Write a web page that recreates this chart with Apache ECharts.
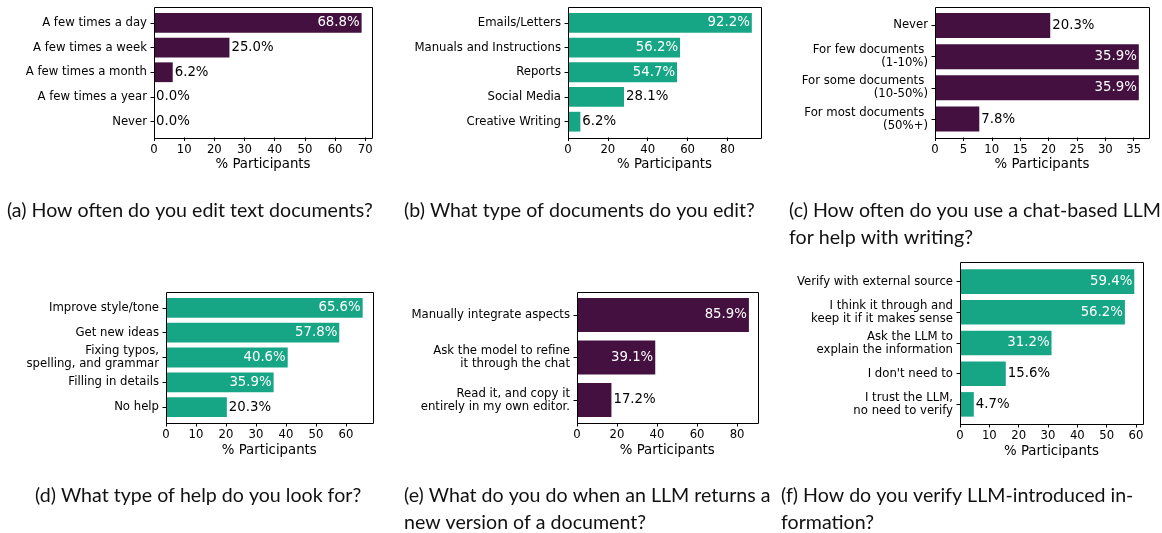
<!DOCTYPE html>
<html>
<head>
<meta charset="utf-8">
<script src="https://cdn.jsdelivr.net/npm/echarts@6/dist/echarts.min.js"></script>
<style>
  html, body { margin: 0; padding: 0; background: #fff; }
  #main { width: 1162px; height: 533px; }
</style>
</head>
<body>
<div id="main"></div>
<script>
// (a) How often do you edit text documents?
var catsA = ['A few times a day', 'A few times a week', 'A few times a month', 'A few times a year', 'Never'];
var valsA = [68.8, 25.0, 6.2, 0.0, 0.0];
// (b) What type of documents do you edit?
var catsB = ['Emails/Letters', 'Manuals and Instructions', 'Reports', 'Social Media', 'Creative Writing'];
var valsB = [92.2, 56.2, 54.7, 28.1, 6.2];
// (c) chat-based LLM usage
var catsC = ['Never', 'For few documents \n(1-10%)', 'For some documents \n(10-50%)', 'For most documents \n(50%+)'];
var valsC = [20.3, 35.9, 35.9, 7.8];
// (d) type of help
var catsD = ['Improve style/tone', 'Get new ideas', 'Fixing typos,\nspelling, and grammar', 'Filling in details', 'No help'];
var valsD = [65.6, 57.8, 40.6, 35.9, 20.3];
// (e) LLM returns new version
var catsE = ['Manually integrate aspects', 'Ask the model to refine\nit through the chat', 'Read it, and copy it\nentirely in my own editor.'];
var valsE = [85.9, 39.1, 17.2];
// (f) verify LLM information
var catsF = ['Verify with external source', 'I think it through and\nkeep it if it makes sense', 'Ask the LLM to\nexplain the information', 'I don\'t need to', 'I trust the LLM,\nno need to verify'];
var valsF = [59.4, 56.2, 31.2, 15.6, 4.7];

// x tick steps
var ticksA = 10, ticksB = 20, ticksC = 5, ticksD = 10, ticksE = 20, ticksF = 10;

var captions = [
  '(a) How often do you edit text documents?',
  '(b) What type of documents do you edit?',
  '(c) How often do you use a chat-based LLM\nfor help with writing?',
  '(d) What type of help do you look for?',
  '(e) What do you do when an LLM returns a\nnew version of a document?',
  '(f) How do you verify LLM-introduced in-\nformation?'
];

var PURPLE = '#431040';
var GREEN = '#17a685';
var INSIDE_MIN = 30;   // labels above this go inside the bar
var FONT = 'DejaVu Sans';

var panels = [
  { cats: catsA, vals: valsA, step: ticksA, color: PURPLE, box: [154, 7, 218, 130.5] },
  { cats: catsB, vals: valsB, step: ticksB, color: GREEN,  box: [568, 7, 193, 130.5] },
  { cats: catsC, vals: valsC, step: ticksC, color: PURPLE, box: [935, 7, 214, 130.5] },
  { cats: catsD, vals: valsD, step: ticksD, color: GREEN,  box: [166, 292, 206.5, 131] },
  { cats: catsE, vals: valsE, step: ticksE, color: PURPLE, box: [577, 292, 180.5, 131] },
  { cats: catsF, vals: valsF, step: ticksF, color: GREEN,  box: [960, 262, 183, 162] }
];
var captionPos = [[7, 197], [404, 197], [789, 197], [35, 482], [404, 482], [781, 482]];

var grids = [], xAxes = [], yAxes = [], series = [], graphics = [], titles = [];

function each(arr, fn) { for (var i = 0; i < arr.length; i++) fn(i, arr[i]); }

each(panels, function (i, p) {
  var l = p.box[0], t = p.box[1], w = p.box[2], h = p.box[3];
  var n = p.cats.length;
  // matplotlib style y limits: bars of 0.8, 5% margin
  var unit = h / (1.1 * (n - 0.2));
  var inset = (h - n * unit) / 2;
  var xmax = Math.max.apply(null, p.vals) * 1.05;

  grids.push({ left: l, top: t + inset, width: w, height: n * unit, containLabel: false });

  xAxes.push({
    gridIndex: i, type: 'value', min: 0, max: xmax, interval: p.step,
    offset: inset,
    axisLine: { show: false },
    axisTick: { show: true, length: 3.5, lineStyle: { color: '#000', width: 1 } },
    axisLabel: { color: '#000', fontFamily: FONT, fontSize: 11.7, margin: 6, showMaxLabel: false },
    splitLine: { show: false },
    name: '% Participants', nameLocation: 'middle', nameGap: 21,
    nameTextStyle: { color: '#000', fontFamily: FONT, fontSize: 13.3, verticalAlign: 'top' }
  });

  yAxes.push({
    gridIndex: i, type: 'category', data: p.cats, inverse: true,
    axisLine: { show: false },
    axisTick: { show: true, alignWithLabel: true, length: 3.5, lineStyle: { color: '#000', width: 1 } },
    axisLabel: { color: '#000', fontFamily: FONT, fontSize: 11.7, margin: 7, lineHeight: 13, align: 'right', interval: 0 }
  });

  var data = [];
  each(p.vals, function (j, v) {
    var inside = v > INSIDE_MIN;
    data.push({
      value: v,
      label: { position: inside ? 'insideRight' : 'right', color: inside ? '#fff' : '#000' }
    });
  });

  series.push({
    type: 'bar', xAxisIndex: i, yAxisIndex: i, data: data,
    barCategoryGap: '20%', itemStyle: { color: p.color },
    label: { show: true, distance: 2, fontFamily: FONT, fontSize: 13.3,
      formatter: function (o) { return o.value.toFixed(1) + '%'; } },
    silent: true, animation: false
  });

  // axes frame
  graphics.push({
    type: 'rect', silent: true, z: 10,
    shape: { x: Math.round(l) + 0.5, y: Math.round(t) + 0.5, width: Math.round(w), height: Math.round(h) },
    style: { fill: 'none', stroke: '#000', lineWidth: 1 }
  });

  titles.push({
    text: captions[i], left: captionPos[i][0], top: captionPos[i][1], padding: 0,
    textStyle: { fontFamily: 'Lato', fontWeight: 'normal', fontSize: 19.6, lineHeight: 27, color: '#111' }
  });
});

var myChart = echarts.init(document.getElementById('main'));
var option = {
  animation: false,
  title: titles,
  grid: grids,
  xAxis: xAxes,
  yAxis: yAxes,
  series: series,
  graphic: graphics
};
myChart.setOption(option);
</script>
</body>
</html>
